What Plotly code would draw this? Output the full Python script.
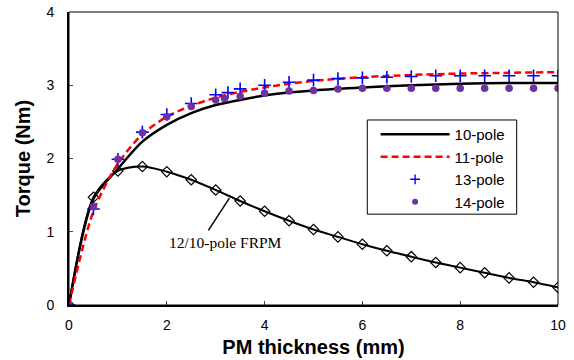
import plotly.graph_objects as go

# ---- data ----
frpm_x = [0, 0.5, 1, 1.5, 2, 2.5, 3, 3.5, 4, 4.5, 5, 5.5, 6, 6.5, 7, 7.5, 8, 8.5, 9, 9.5, 10]
frpm_y = [0, 1.47, 1.83, 1.89, 1.82, 1.71, 1.57, 1.42, 1.28, 1.15, 1.03, 0.93, 0.83, 0.74,
          0.66, 0.58, 0.51, 0.44, 0.37, 0.31, 0.24]

p10_x = [0, 0.5, 1, 1.5, 2, 2.5, 3, 3.5, 4, 4.5, 5, 6, 7, 8, 9, 10]
p10_y = [0, 1.45, 1.86, 2.23, 2.46, 2.62, 2.73, 2.80, 2.86, 2.90, 2.93, 2.97, 3.00, 3.02, 3.03, 3.03]

p11_x = [0, 0.5, 1, 1.5, 2, 2.5, 3, 3.5, 4, 4.5, 5, 6, 7, 8, 9, 10]
p11_y = [0, 1.28, 1.93, 2.33, 2.57, 2.72, 2.83, 2.91, 2.97, 3.02, 3.06, 3.11, 3.14, 3.16, 3.17, 3.18]

p13_x = [0, 0.5, 1, 1.5, 2, 2.5, 3, 3.25, 3.5, 4, 4.5, 5, 5.5, 6, 6.5, 7, 7.5, 8, 8.5, 9, 9.5, 10]
p13_y = [0, 1.31, 1.99, 2.36, 2.60, 2.75, 2.87, 2.90, 2.95, 3.00, 3.04, 3.07, 3.09, 3.10, 3.11,
         3.12, 3.13, 3.13, 3.13, 3.13, 3.13, 3.13]

p14_x = [0, 0.5, 1, 1.5, 2, 2.5, 3, 3.18, 3.5, 4, 4.5, 5, 5.5, 6, 6.5, 7, 7.5, 8, 8.5, 9, 9.5, 10]
p14_y = [0, 1.34, 1.99, 2.35, 2.57, 2.71, 2.80, 2.82, 2.85, 2.89, 2.92, 2.93, 2.95, 2.96, 2.96,
         2.96, 2.96, 2.96, 2.96, 2.96, 2.96, 2.96]

x_ticks = [0, 2, 4, 6, 8, 10]
y_ticks = [0, 1, 2, 3, 4]

SANS = "Arial, Liberation Sans, sans-serif"
SERIF = "Times New Roman, Liberation Serif, serif"

fig = go.Figure()

fig.add_trace(go.Scatter(x=frpm_x, y=frpm_y, mode="lines+markers", showlegend=False,
                         line=dict(color="black", width=2, shape="spline", smoothing=0.8),
                         marker=dict(symbol="diamond-open", size=8, color="black",
                                     line=dict(width=1.2, color="black"))))
fig.add_trace(go.Scatter(x=p10_x, y=p10_y, mode="lines", name="10-pole",
                         line=dict(color="black", width=2.5, shape="spline", smoothing=0.8)))
fig.add_trace(go.Scatter(x=p11_x, y=p11_y, mode="lines", name="11-pole",
                         line=dict(color="#ff0000", width=2.5, dash="7px,4px",
                                   shape="spline", smoothing=0.8)))
fig.add_trace(go.Scatter(x=p13_x, y=p13_y, mode="markers", name="13-pole", showlegend=False,
                         marker=dict(symbol="cross-thin", size=9, color="#0000ff",
                                     line=dict(width=1.6, color="#0000ff"))))
fig.add_trace(go.Scatter(x=p14_x, y=p14_y, mode="markers", name="14-pole", showlegend=False,
                         marker=dict(symbol="circle", size=7.5, color="#7030a0")))
# legend-only entries with the smaller symbols used in the reference legend
fig.add_trace(go.Scatter(x=[None], y=[None], mode="markers", name="13-pole",
                         marker=dict(symbol="cross-thin", size=7, color="#0000ff",
                                     line=dict(width=1.4, color="#0000ff"))))
fig.add_trace(go.Scatter(x=[None], y=[None], mode="markers", name="14-pole",
                         marker=dict(symbol="circle", size=6, color="#7030a0")))

# annotation with leader line
fig.add_shape(type="line", x0=2.85, y0=1.02, x1=3.28, y1=1.46, xref="x", yref="y",
              line=dict(color="black", width=1.5))
fig.add_annotation(x=3.21, y=0.85, xref="x", yref="y", text="12/10-pole FRPM",
                   showarrow=False, font=dict(family=SERIF, size=15.5, color="black"))

# thin frame
fig.add_shape(type="rect", xref="paper", yref="paper", x0=0, y0=0, x1=1, y1=1,
              line=dict(color="black", width=1), layer="above")
# legend border
fig.add_shape(type="rect", xref="paper", yref="paper", x0=0.610, y0=0.310, x1=0.9155, y1=0.6315,
              line=dict(color="black", width=1), layer="above")

fig.update_layout(
    width=574, height=360,
    margin=dict(l=69, r=16, t=12, b=55, autoexpand=False),
    paper_bgcolor="white", plot_bgcolor="white",
    font=dict(family=SANS, size=14, color="black"),
    legend=dict(x=0.627, y=0.638, xanchor="left", yanchor="top",
                borderwidth=0, bgcolor="rgba(0,0,0,0)",
                font=dict(family=SANS, size=15), itemwidth=69),
    xaxis=dict(range=[0, 10], tickvals=x_ticks, ticks="inside", ticklen=4,
               showline=True, linewidth=2, linecolor="black", showgrid=False,
               zeroline=False, ticklabelstandoff=6, automargin=False,
               title=dict(text="<b>PM thickness (mm)</b>", font=dict(size=20), standoff=8)),
    yaxis=dict(range=[0, 4], tickvals=y_ticks, ticks="inside", ticklen=4,
               showline=True, linewidth=2, linecolor="black", showgrid=False,
               zeroline=False, ticklabelstandoff=10, automargin=False,
               title=dict(text="<b>Torque (Nm)</b>", font=dict(size=20), standoff=10)),
)

fig.write_html("out.html")
